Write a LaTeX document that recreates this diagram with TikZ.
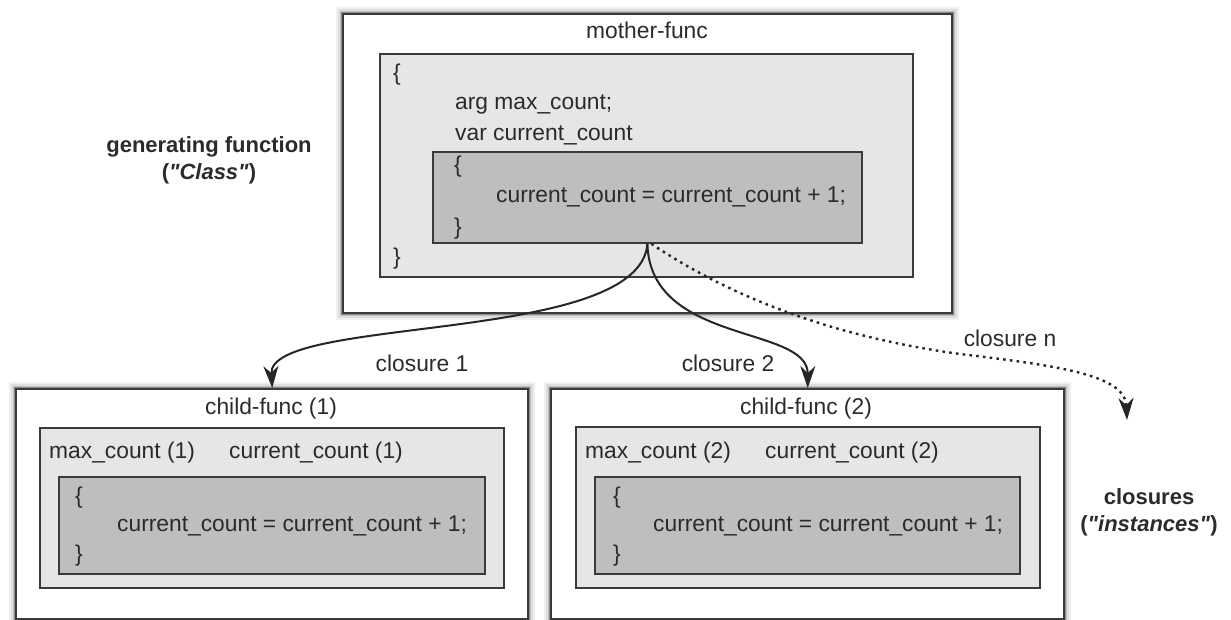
\documentclass[tikz,border=0pt]{standalone}
\usepackage{fontspec}
\setmainfont{Liberation Sans}
\usetikzlibrary{arrows.meta}
\definecolor{txt}{HTML}{2B2B2B}
\definecolor{edge}{HTML}{3A3A3A}
\definecolor{lightfill}{HTML}{E6E6E6}
\definecolor{darkfill}{HTML}{BEBEBE}
\begin{document}
\begin{tikzpicture}[x=1pt,y=-1pt,
  every node/.style={font=\fontsize{22.8}{27}\selectfont, text=txt, inner sep=0pt},
  txtnode/.style={text height=16.5pt, text depth=4.5pt},
  codeline/.style={txtnode, anchor=west},
  outerbox/.style={draw=edge, line width=2.4pt, fill=white, anchor=north west,
    preaction={draw=black!6, line width=14pt},
    preaction={draw=black!13, line width=10pt},
    preaction={draw=black!25, line width=6.5pt},
    preaction={draw=black!45, line width=4pt}},
  lightbox/.style={draw=edge, line width=1.8pt, fill=lightfill, anchor=north west},
  darkbox/.style={draw=edge, line width=1.8pt, fill=darkfill, anchor=north west},
  sidelabel/.style={anchor=center, font=\fontsize{22}{27}\selectfont\bfseries, align=center},
  flow/.style={draw=black!85, line width=2pt, -{Stealth[length=22pt,width=15pt,inset=7pt]}},
  flowdot/.style={flow, line width=2.4pt, dash pattern=on 2.6pt off 4.2pt}
]
\useasboundingbox (0,0) rectangle (1231,620);

% mother-func
\node[outerbox, minimum width=609pt, minimum height=299pt] (mother) at (342,13) {};
\node[lightbox, minimum width=533pt, minimum height=223pt] (mlight) at (379,53) {};
\node[darkbox, minimum width=429pt, minimum height=91pt] (mdark) at (432,151) {};
\node[txtnode] (mtitle) at (647,33) {mother-func};
\node[txtnode] (mob) at (397,75) {\{};
\node[codeline] (marg) at (455,104) {arg max\_count;};
\node[codeline] (mvar) at (455,135) {var current\_count};
\node[txtnode] (mib) at (458,167) {\{};
\node[codeline] (mcode) at (496,197) {current\_count = current\_count + 1;};
\node[txtnode] (mic) at (458,229) {\}};
\node[txtnode] (moc) at (397,259) {\}};

% child-func (1)
\node[outerbox, minimum width=512pt, minimum height=230pt] (c1) at (15,388) {};
\node[lightbox, minimum width=464pt, minimum height=160pt] (c1light) at (39,427) {};
\node[darkbox, minimum width=426pt, minimum height=97pt] (c1dark) at (58,476) {};
\node[txtnode] (c1title) at (271,408) {child-func (1)};
\node[codeline] (c1max) at (49,452) {max\_count (1)};
\node[codeline] (c1cur) at (229,452) {current\_count (1)};
\node[txtnode] (c1ob) at (79,497) {\{};
\node[codeline] (c1code) at (117,525) {current\_count = current\_count + 1;};
\node[txtnode] (c1cb) at (79,555) {\}};

% child-func (2)
\node[outerbox, minimum width=513pt, minimum height=230pt] (c2) at (550,388) {};
\node[lightbox, minimum width=464pt, minimum height=161pt] (c2light) at (575,426) {};
\node[darkbox, minimum width=425pt, minimum height=97pt] (c2dark) at (594,476) {};
\node[txtnode] (c2title) at (806,408) {child-func (2)};
\node[codeline] (c2max) at (585,452) {max\_count (2)};
\node[codeline] (c2cur) at (765,452) {current\_count (2)};
\node[txtnode] (c2ob) at (617,497) {\{};
\node[codeline] (c2code) at (653,525) {current\_count = current\_count + 1;};
\node[txtnode] (c2cb) at (617,555) {\}};

% side labels
\node[sidelabel] (gen) at (209,160) {generating function\\(\textit{\textquotedbl Class\textquotedbl})};
\node[sidelabel] (inst) at (1149,512) {closures\\(\textit{\textquotedbl instances\textquotedbl})};

% connectors
\coordinate (cn) at (1127,420);
\draw[flow] (mdark.south) .. controls (640,345) and (268,315) .. (c1.north);
\draw[flow] (mdark.south) .. controls (650,345) and (808,325) .. (c2.north);
\draw[flowdot] ([xshift=4pt]mdark.south) .. controls (720,290) and (820,335) .. (960,354)
  .. controls (1060,366) and (1125,375) .. (cn);

% connector labels
\node[txtnode] (l1) at (422,365) {closure 1};
\node[txtnode] (l2) at (728,365) {closure 2};
\node[txtnode] (ln) at (1010,340) {closure n};
\end{tikzpicture}
\end{document}
